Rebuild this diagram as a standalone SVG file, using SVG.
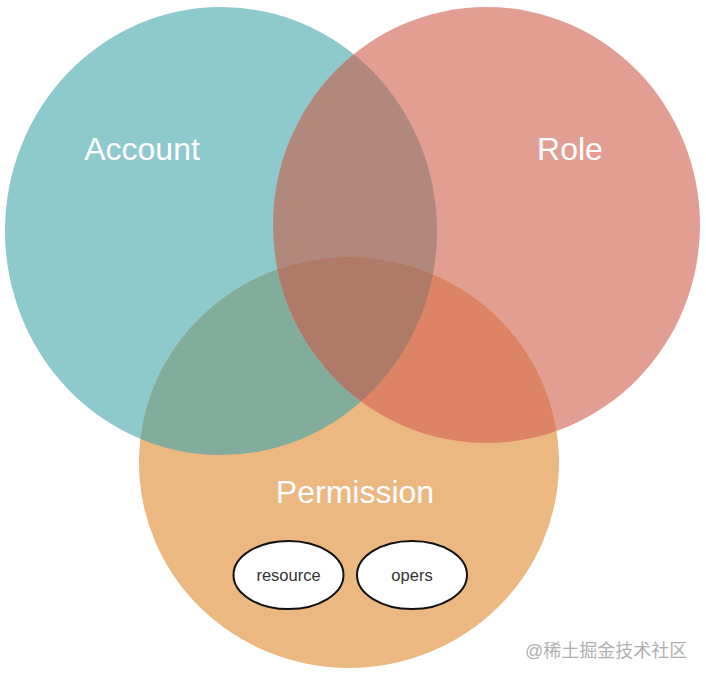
<svg xmlns="http://www.w3.org/2000/svg" width="706" height="680" viewBox="0 0 706 680">
<style>
.big{font-family:"Liberation Sans",Arial,sans-serif;font-size:32px;fill:#ffffff;text-anchor:middle}
.small{font-family:"Liberation Sans",Arial,sans-serif;font-size:16.5px;fill:#333333;text-anchor:middle}
.inner{fill:#ffffff;stroke:#111111;stroke-width:2}
.wm{font-family:"Liberation Sans","Noto Sans CJK SC",sans-serif;font-size:18px;fill:#b0b0b0}
</style>
<defs>
<ellipse id="eA" cx="221" cy="231" rx="216" ry="224"/>
<ellipse id="eR" cx="486.5" cy="225" rx="213.5" ry="218"/>
<ellipse id="eP" cx="349" cy="462.5" rx="210" ry="205.5"/>
<clipPath id="cA"><use href="#eA"/></clipPath>
<clipPath id="cR"><use href="#eR"/></clipPath>
<clipPath id="cP"><use href="#eP"/></clipPath>
</defs>
<rect width="706" height="680" fill="#ffffff"/>
<g id="account"><use href="#eA" fill="#8ECACD"/></g>
<g id="role"><use href="#eR" fill="#E39E93"/></g>
<g id="permission"><use href="#eP" fill="#ECB882"/></g>
<g id="overlaps">
<g clip-path="url(#cA)"><use href="#eR" fill="#B1887C"/></g>
<g clip-path="url(#cA)"><use href="#eP" fill="#82AC9C"/></g>
<g clip-path="url(#cR)"><use href="#eP" fill="#DE8466"/></g>
<g clip-path="url(#cA)"><g clip-path="url(#cR)"><use href="#eP" fill="#AF7B68"/></g></g>
</g>
<g id="labels">
<text class="big" x="142" y="160">Account</text>
<text class="big" x="570" y="160">Role</text>
<text class="big" x="355" y="503">Permission</text>
</g>
<g id="resource">
<ellipse class="inner" cx="288.5" cy="575" rx="55" ry="34"/>
<text class="small" x="288.5" y="581">resource</text>
</g>
<g id="opers">
<ellipse class="inner" cx="412" cy="575" rx="55" ry="34"/>
<text class="small" x="412" y="581">opers</text>
</g>
<text class="wm" x="525" y="657">@稀土掘金技术社区</text>
</svg>
